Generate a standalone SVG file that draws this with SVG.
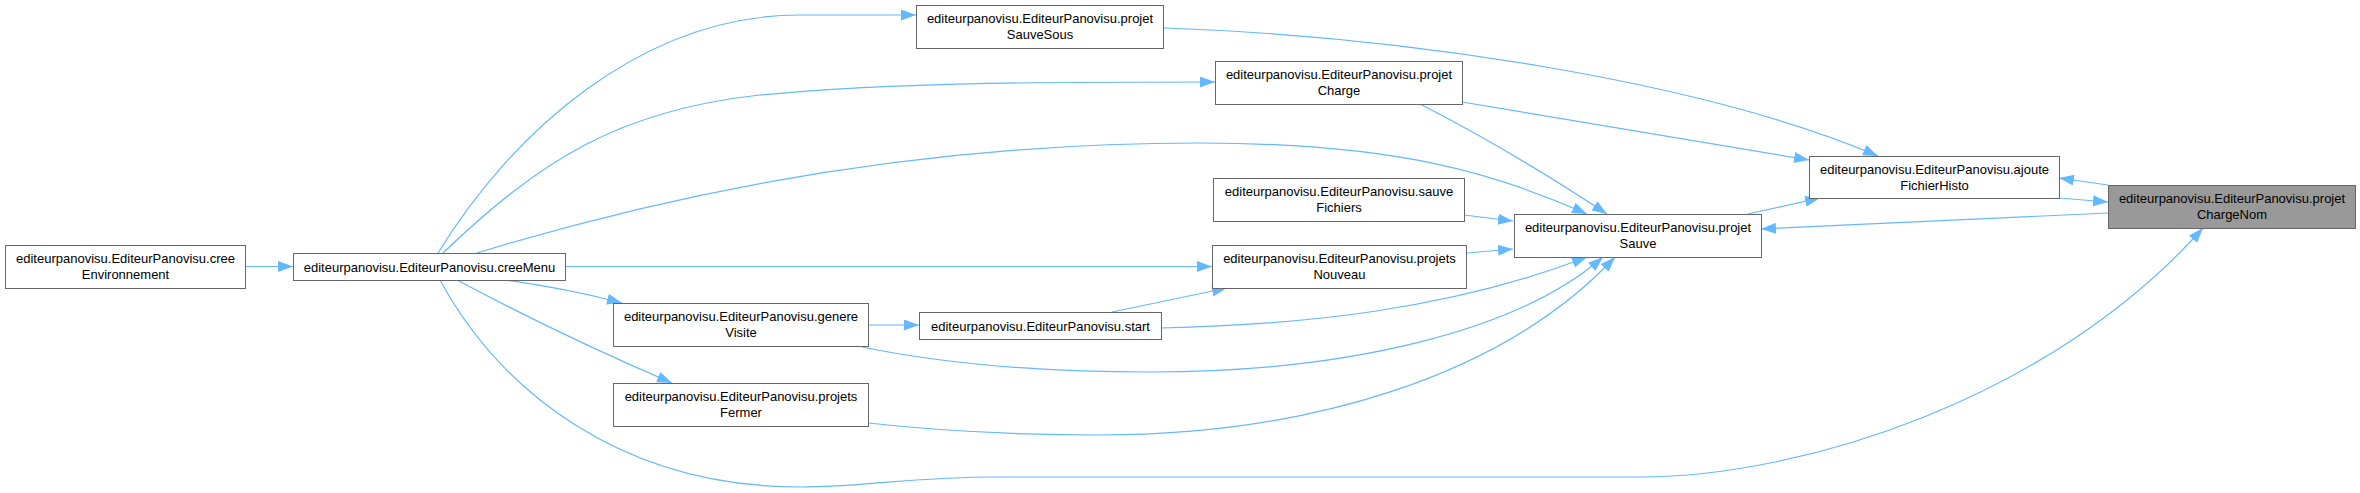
<svg xmlns="http://www.w3.org/2000/svg" width="2360" height="493" viewBox="0 0 2360 493">
<style>
.n rect{fill:#ffffff;stroke:#666666;stroke-width:1}
.n.hl rect{fill:#999999}
.n text{font-family:"Liberation Sans",Arial,sans-serif;font-size:13px;fill:#000000;text-anchor:middle}
.e path{fill:none;stroke:#63b8ff;stroke-width:1.2;marker-end:url(#ah)}
</style>
<defs>
<marker id="ah" markerUnits="userSpaceOnUse" markerWidth="15" markerHeight="11" viewBox="0 0 15 11" refX="15" refY="5.5" orient="auto">
<path d="M0,0 L15,5.5 L0,11 z" fill="#63b8ff"/>
</marker>
</defs>
<rect width="2360" height="493" fill="#ffffff"/>
<g id="edges" class="e">
<path d="M246,266.5 L293,266.5"/>
<path d="M438,253 C510,135 640,15 800,15 L916,15"/>
<path d="M443,253 C540,160 620,110 760,95 C900,82 1050,82 1215,82"/>
<path d="M477,253 C650,200 900,143 1200,143 C1400,143 1500,175 1587,214"/>
<path d="M566,266.5 L1212,266.5"/>
<path d="M505,280 Q565,288 622,303"/>
<path d="M457,280 Q560,335 672,383"/>
<path d="M440,280 C500,390 620,487 800,487 C870,487 900,477 1000,477 L1640,477 C1800,477 2050,400 2203,228"/>
<path d="M868,325 L919,325"/>
<path d="M1112,312 L1227,288"/>
<path d="M1161,328 C1300,325 1450,310 1587,257"/>
<path d="M862,347 C950,365 1050,372 1150,372 C1350,372 1520,330 1603,257"/>
<path d="M868,423 C950,432 1030,435 1100,435 C1300,435 1500,380 1615,257"/>
<path d="M1420,104 Q1510,150 1607,214"/>
<path d="M1464,215 L1513,221"/>
<path d="M1467,253 L1513,249"/>
<path d="M1748,214 L1820,198"/>
<path d="M1164,28 C1400,36 1700,80 1878,156"/>
<path d="M1462,102 L1809,160"/>
<path d="M2059,198 L2108,202"/>
<path d="M2108,185 L2059,178"/>
<path d="M2108,213 L1761,229"/>
</g>
<g id="creeEnvironnement" class="n"><rect x="5.5" y="245.5" width="240" height="43"/><text x="125.5" y="263">editeurpanovisu.EditeurPanovisu.cree</text><text x="125.5" y="279">Environnement</text></g>
<g id="creeMenu" class="n"><rect x="293.5" y="253.5" width="272" height="27"/><text x="429.5" y="271.5">editeurpanovisu.EditeurPanovisu.creeMenu</text></g>
<g id="projetSauveSous" class="n"><rect x="916.5" y="5.5" width="247" height="43"/><text x="1040" y="23">editeurpanovisu.EditeurPanovisu.projet</text><text x="1040" y="39">SauveSous</text></g>
<g id="projetCharge" class="n"><rect x="1215.5" y="61.5" width="247" height="43"/><text x="1339" y="79">editeurpanovisu.EditeurPanovisu.projet</text><text x="1339" y="95">Charge</text></g>
<g id="sauveFichiers" class="n"><rect x="1213.5" y="178.5" width="251" height="43"/><text x="1339" y="196">editeurpanovisu.EditeurPanovisu.sauve</text><text x="1339" y="212">Fichiers</text></g>
<g id="projetsNouveau" class="n"><rect x="1212.5" y="245.5" width="254" height="43"/><text x="1339.5" y="263">editeurpanovisu.EditeurPanovisu.projets</text><text x="1339.5" y="279">Nouveau</text></g>
<g id="genereVisite" class="n"><rect x="613.5" y="303.5" width="255" height="43"/><text x="741" y="321">editeurpanovisu.EditeurPanovisu.genere</text><text x="741" y="337">Visite</text></g>
<g id="start" class="n"><rect x="919.5" y="312.5" width="242" height="27"/><text x="1040.5" y="330.5">editeurpanovisu.EditeurPanovisu.start</text></g>
<g id="projetsFermer" class="n"><rect x="613.5" y="383.5" width="255" height="43"/><text x="741" y="401">editeurpanovisu.EditeurPanovisu.projets</text><text x="741" y="417">Fermer</text></g>
<g id="projetSauve" class="n"><rect x="1514.5" y="214.5" width="247" height="43"/><text x="1638" y="232">editeurpanovisu.EditeurPanovisu.projet</text><text x="1638" y="248">Sauve</text></g>
<g id="ajouteFichierHisto" class="n"><rect x="1809.5" y="156.5" width="250" height="42"/><text x="1934.5" y="174">editeurpanovisu.EditeurPanovisu.ajoute</text><text x="1934.5" y="190">FichierHisto</text></g>
<g id="projetChargeNom" class="n hl"><rect x="2108.5" y="185.5" width="247" height="43"/><text x="2232" y="203">editeurpanovisu.EditeurPanovisu.projet</text><text x="2232" y="219">ChargeNom</text></g>
</svg>
